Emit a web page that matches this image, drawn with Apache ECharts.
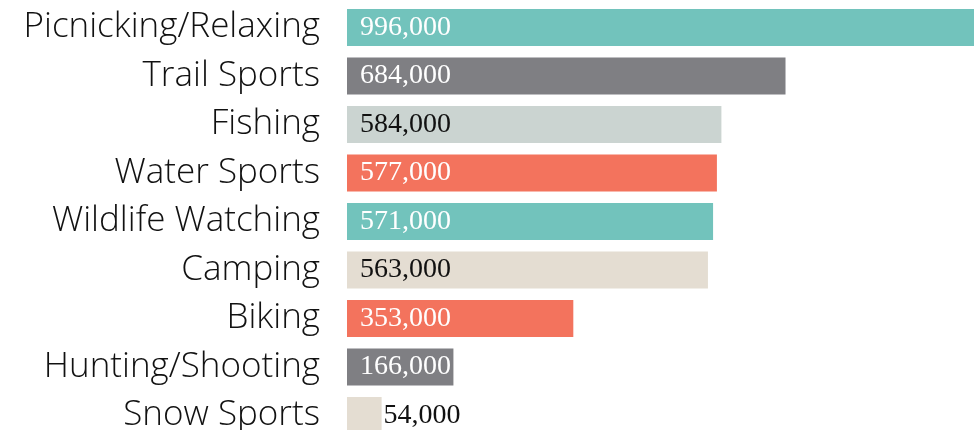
<!DOCTYPE html>
<html>
<head>
<meta charset="utf-8">
<script src="https://cdn.jsdelivr.net/npm/echarts@6/dist/echarts.min.js"></script>
<style>
html,body{margin:0;padding:0;background:#fff;}
#chart{width:974px;height:430px;}
</style>
</head>
<body>
<div id="chart"></div>
<script>
const categories = ["Picnicking/Relaxing","Trail Sports","Fishing","Water Sports","Wildlife Watching","Camping","Biking","Hunting/Shooting","Snow Sports"];
const values = [996000,684000,584000,577000,571000,563000,353000,166000,54000];
const barColors = ["#72c3bc","#7f7f83","#cbd4d1","#f3735d","#72c3bc","#e4ddd2","#f3735d","#7f7f83","#e4ddd2"];
const labelColors = ["#fff","#fff","#111","#fff","#fff","#111","#fff","#fff","#111"];

const chart = echarts.init(document.getElementById('chart'), null, {renderer:'canvas'});
const fmt = v => v.toLocaleString('en-US');
chart.setOption({
  animation:false,
  grid:{left:347,width:627,top:3.25,height:436.5,containLabel:false,outerBoundsMode:'none'},
  xAxis:{type:'value',min:0,max:978000,show:false},
  yAxis:{type:'category',data:categories,inverse:true,
    axisLine:{show:false},axisTick:{show:false},splitLine:{show:false},
    axisLabel:{margin:27,fontFamily:'Open Sans',fontWeight:300,fontSize:35,color:'#111',padding:[4,0,0,0]}},
  series:[{type:'bar',barWidth:37,
    data:values.map((v,i)=>({value:v,itemStyle:{color:barColors[i]},
      label:{show:true,position: v<100000?'right':'insideLeft',distance: v<100000?2:13,
        color:labelColors[i],formatter:p=>fmt(p.value),fontFamily:'Liberation Serif',fontSize:28,padding:[2,0,0,0]}}))
  }]
});
</script>
</body>
</html>
